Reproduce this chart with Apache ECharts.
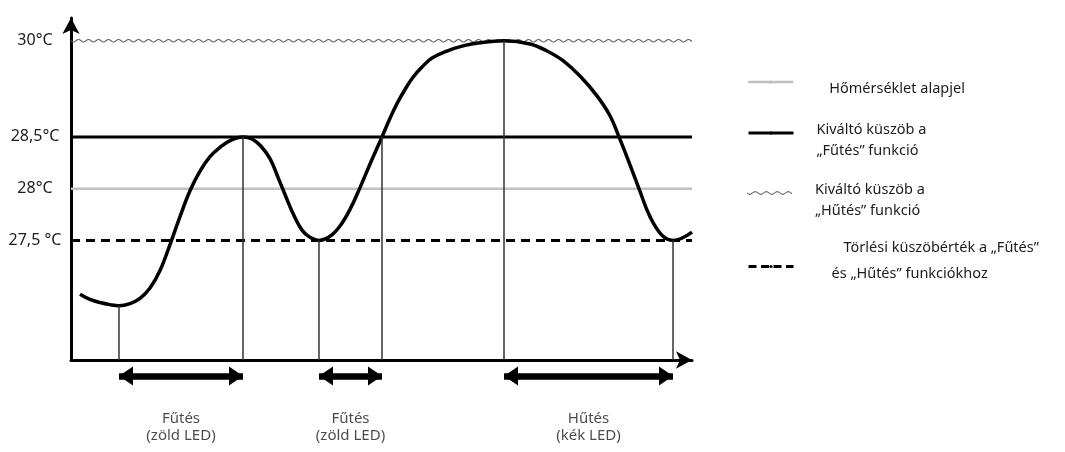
<!DOCTYPE html>
<html>
<head>
<meta charset="utf-8">
<script src="https://cdn.jsdelivr.net/npm/echarts@6/dist/echarts.min.js"></script>
<style>
  html, body { margin: 0; padding: 0; background: #fff; }
  #main { width: 1065px; height: 452px; }
</style>
</head>
<body>
<div id="main"></div>
<script>
// görbe pontjai: idő (tetszőleges egység) és hőmérséklet (°C)
const timeSteps = [9, 19, 29, 39, 48, 59, 69, 79, 89, 99, 109, 119, 129, 139, 149, 160, 172,
  181, 190, 199, 207, 215, 223, 231, 239, 248,
  259, 269, 279, 289, 300, 311, 319, 326, 334, 342, 351, 361, 376, 392, 409, 433,
  459, 476, 492, 509, 526, 539, 548, 557, 568, 579, 591, 602, 621];
const temperatures = [26.98, 26.93, 26.90, 26.88, 26.87, 26.89, 26.94, 27.04, 27.21, 27.46, 27.73, 27.98, 28.17, 28.31, 28.40, 28.47, 28.5,
  28.48, 28.41, 28.29, 28.11, 27.92, 27.74, 27.60, 27.53, 27.5,
  27.54, 27.64, 27.80, 28.01, 28.26, 28.5, 28.79, 29.02, 29.24, 29.43, 29.59, 29.73, 29.84, 29.92, 29.97, 30,
  29.95, 29.84, 29.69, 29.45, 29.14, 28.83, 28.5, 28.28, 28.0, 27.73, 27.55, 27.5, 27.58];
// ezekből a pontokból megy függőleges vonal a tengelyig
const dropIndex = [4, 16, 25, 31, 41, 53];

// küszöbvonalak (jelmagyarázat sorrendjében)
const thresholdNames = [
  'Hőmérséklet alapjel',
  'Kiváltó küszöb a\n„Fűtés” funkció',
  'Kiváltó küszöb a\n„Hűtés” funkció',
  'Törlési küszöbérték a „Fűtés”\nés „Hűtés” funkciókhoz'
];
const thresholdValues = [28, 28.5, 30, 27.5];
const timeEnd = 621;

// y tengely feliratai
const yTickValues = [27.5, 28, 28.5, 30];
const yTickLabels = ['27,5 °C', '28°C', '28,5°C', '30°C'];

// fűtés / hűtés szakaszok
const modeRanges = [[48, 172], [248, 311], [433, 602]];
const modeLabels = ['Fűtés\n(zöld LED)', 'Fűtés\n(zöld LED)', 'Hűtés\n(kék LED)'];

const FONT = 'Noto Sans';
const TEXT = '#1c1c1c';
const ARROW_Y = 16;
const LABEL_Y = 67;
const yMin = 26.345;
const yMax = 30.22;

// hullámos vonal a jelmagyarázathoz
function wavePath(len, period, amp, thick) {
  const top = [], bottom = [];
  for (let x = 0; x <= len; x += 0.5) {
    const y = amp * Math.sin(x / period * 2 * Math.PI);
    top.push(x + ',' + y.toFixed(2));
    bottom.unshift(x + ',' + (y + thick).toFixed(2));
  }
  return 'path://M' + top.join(' L') + ' L' + bottom.join(' L') + ' Z';
}

// minden sort külön rich blokkba, hogy a padding függőlegesen is hasson
const richLines = name => name.split('\n').map(s => '{t|' + s + '}').join('\n');

const chart = echarts.init(document.getElementById('main'));

const curveData = timeSteps.map((t, i) => [t, temperatures[i]]);
const dropLines = dropIndex.map(i => [
  { coord: [timeSteps[i], temperatures[i]] },
  { coord: [timeSteps[i], yMin] }
]);

function legendItem(data, top, pad, extra) {
  return Object.assign({
    data: data, left: 747, top: top, padding: 0, selectedMode: false,
    itemWidth: 45, itemHeight: 4,
    formatter: richLines,
    textStyle: {
      fontSize: 14.5, color: TEXT, fontFamily: FONT, padding: pad,
      rich: { t: { fontSize: 14.5, color: TEXT, fontFamily: FONT, lineHeight: 21 } }
    }
  }, extra);
}

const axisArrow = { show: true, onZero: false, lineStyle: { color: '#000', width: 3 }, symbol: ['none', 'arrow'], symbolSize: [13, 16] };

const option = {
  animation: false,
  grid: [
    { left: 71, right: 373, top: 18, bottom: 92, outerBoundsMode: 'none' },
    { left: 71, right: 373, top: 360, bottom: 0, outerBoundsMode: 'none' }
  ],
  xAxis: [
    {
      type: 'value', min: 0, max: timeEnd,
      axisLine: axisArrow,
      axisTick: { show: false }, axisLabel: { show: false }, splitLine: { show: false }
    },
    { gridIndex: 1, type: 'value', min: 0, max: timeEnd, show: false }
  ],
  yAxis: [
    {
      type: 'value', min: yMin, max: yMax,
      // 28,5 és 30 °C között összenyomott skála, mint az eredeti ábrán
      breaks: [{ start: 28.5, end: 30, gap: 0.929 }],
      breakArea: { show: false },
      axisLine: { show: false },
      axisTick: { show: false },
      splitLine: { show: false },
      axisLabel: {
        customValues: yTickValues,
        formatter: v => yTickLabels[yTickValues.indexOf(v)],
        align: 'center', margin: 36, fontSize: 16, color: TEXT, fontFamily: FONT
      }
    },
    { gridIndex: 1, type: 'value', min: 0, max: 92, inverse: true, show: false },
    {
      // csak a folytonos tengelyvonal és a nyíl
      gridIndex: 0, type: 'value', min: 0, max: 1, position: 'left',
      axisLine: axisArrow,
      axisTick: { show: false }, axisLabel: { show: false }, splitLine: { show: false }
    }
  ],
  legend: [
    legendItem([thresholdNames[0]], 80.5, [14, 0, 0, 31], { lineStyle: { width: 2.5 } }),
    legendItem([thresholdNames[1]], 122, [14, 0, 0, 18], { lineStyle: { width: 3 } }),
    legendItem([{ name: thresholdNames[2], icon: wavePath(45, 11, 1.3, 1.2) }], 182, [14, 0, 0, 18], { itemHeight: 3.8 }),
    legendItem([thresholdNames[3]], 240, [0, 0, 12, 33], {
      lineStyle: { width: 3, type: [8, 4.5] },
      formatter: name => {
        const parts = name.split('\n');
        return '{a|' + parts[0] + '}\n{b|' + parts[1] + '}';
      },
      textStyle: {
        fontSize: 14.5, color: TEXT, fontFamily: FONT, padding: [0, 0, 12, 33],
        rich: {
          a: { fontSize: 14.5, color: TEXT, fontFamily: FONT, lineHeight: 26, padding: [0, 0, 0, 12] },
          b: { fontSize: 14.5, color: TEXT, fontFamily: FONT, lineHeight: 26 }
        }
      }
    })
  ],
  series: [
    {
      name: 'hőmérséklet',
      type: 'line',
      data: curveData,
      smooth: 0.4,
      symbol: 'none',
      z: 4,
      lineStyle: { color: '#000', width: 3.5 },
      markLine: {
        silent: true,
        symbol: ['none', 'none'],
        label: { show: false },
        lineStyle: { color: '#333', width: 1.5, type: 'solid' },
        data: dropLines
      }
    },
    {
      name: thresholdNames[0], type: 'line', symbol: 'none', z: 2,
      color: '#c0c0c0', lineStyle: { color: '#c0c0c0', width: 2.5 },
      data: [[0, thresholdValues[0]], [timeEnd, thresholdValues[0]]]
    },
    {
      name: thresholdNames[1], type: 'line', symbol: 'none', z: 2,
      color: '#000', lineStyle: { color: '#000', width: 3 },
      data: [[0, thresholdValues[1]], [timeEnd, thresholdValues[1]]]
    },
    {
      name: thresholdNames[2], type: 'custom', z: 2,
      itemStyle: { color: '#666' },
      encode: { x: [0, 1], y: 2 },
      data: [[0, timeEnd, thresholdValues[2]]],
      renderItem: (params, api) => {
        const a = api.coord([api.value(0), api.value(2)]);
        const b = api.coord([api.value(1), api.value(2)]);
        const pts = [];
        for (let x = a[0]; x <= b[0]; x += 1) {
          pts.push([x, a[1] + 1.3 * Math.sin((x - a[0]) / 10 * 2 * Math.PI)]);
        }
        return { type: 'polyline', shape: { points: pts }, style: { stroke: '#666', lineWidth: 1.1, fill: null } };
      }
    },
    {
      name: thresholdNames[3], type: 'line', symbol: 'none', z: 2,
      color: '#000', lineStyle: { color: '#000', width: 3, type: [9, 6] },
      data: [[0, thresholdValues[3]], [timeEnd, thresholdValues[3]]]
    },
    {
      name: 'szakaszok',
      type: 'scatter',
      xAxisIndex: 1, yAxisIndex: 1,
      symbolSize: 0,
      data: modeRanges.map((r, i) => ({ name: modeLabels[i], value: [(r[0] + r[1]) / 2, LABEL_Y] })),
      label: {
        show: true, position: 'inside', formatter: '{b}',
        fontSize: 15, lineHeight: 17, color: TEXT, fontFamily: FONT, align: 'center'
      },
      markLine: {
        silent: true,
        symbol: ['triangle', 'triangle'],
        symbolSize: [19, 14],
        symbolOffset: [[0, 7], [0, 7]],
        label: { show: false },
        lineStyle: { color: '#000', width: 6.5, type: 'solid' },
        data: modeRanges.map(r => [{ coord: [r[0], ARROW_Y] }, { coord: [r[1], ARROW_Y] }])
      }
    }
  ]
};

chart.setOption(option);
</script>
</body>
</html>
